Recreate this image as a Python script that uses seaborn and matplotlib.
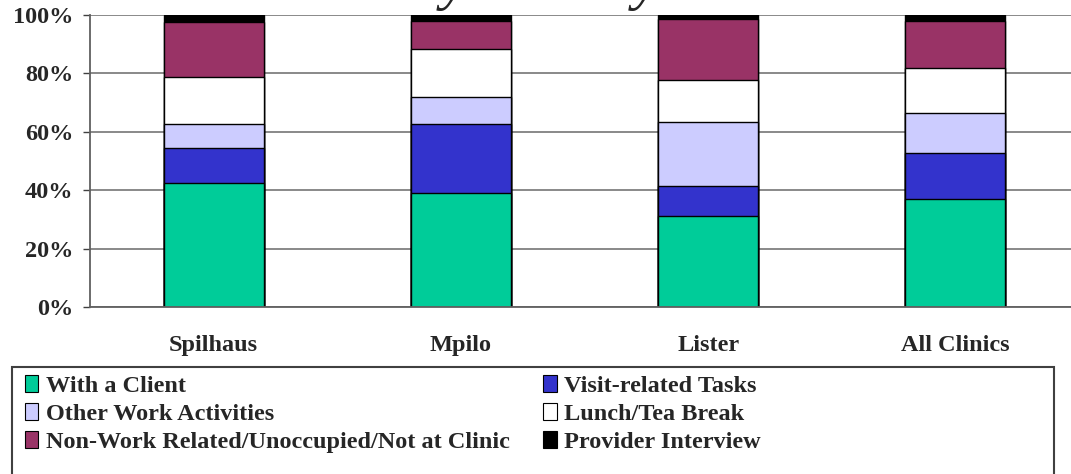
import matplotlib

matplotlib.use("Agg")
import matplotlib.pyplot as plt
import numpy as np
import pandas as pd
import seaborn as sns
from matplotlib.patches import Patch, Rectangle

clinics = ["Spilhaus", "Mpilo", "Lister", "All Clinics"]
activities = [
    "With a Client",
    "Visit-related Tasks",
    "Other Work Activities",
    "Lunch/Tea Break",
    "Non-Work Related/Unoccupied/Not at Clinic",
    "Provider Interview",
]
with_client = [42.4, 38.9, 31.3, 36.9]
visit_tasks = [12.0, 23.9, 10.2, 15.7]
other_work = [8.3, 9.2, 21.7, 13.7]
lunch_break = [16.1, 16.5, 14.6, 15.5]
non_work = [18.9, 9.6, 20.7, 16.2]
interview = [2.3, 1.9, 1.5, 2.0]
colors = ["#00CC99", "#3333CC", "#CCCCFF", "#FFFFFF", "#993366", "#000000"]

series = [with_client, visit_tasks, other_work, lunch_break, non_work, interview]
df = pd.DataFrame(dict(zip(activities, series)), index=clinics)
cum = df.cumsum(axis=1)

sns.set_style("white")
plt.rcParams["font.family"] = ["Liberation Serif", "DejaVu Serif"]
plt.rcParams["font.weight"] = "bold"

fig = plt.figure(figsize=(10.71, 4.74), dpi=100)
ax = fig.add_axes([90 / 1071, 1 - 307 / 474, 989 / 1071, 292 / 474])

# stacked bars: draw cumulative totals from the top segment down
for act, col in zip(reversed(activities), reversed(colors)):
    sns.barplot(x=clinics, y=cum[act].values, color=col, width=0.405,
                edgecolor="black", linewidth=1.0, ax=ax, saturation=1)

ax.set_xlim(-0.5, 3.5)
ax.set_ylim(0, 100)
ax.set_yticks(np.arange(0, 101, 20))
ax.set_yticklabels([f"{v}%" for v in range(0, 101, 20)], fontsize=17.5, fontweight="bold")
ax.set_xticks(range(4))
ax.set_xticklabels(clinics, fontsize=17.5, fontweight="bold")
ax.set_xticks([-0.5, 0.5, 1.5, 2.5], minor=True)
ax.tick_params(axis="x", which="major", length=0, pad=20)
ax.tick_params(axis="x", which="minor", length=5, width=1, color="#404040", direction="out")
ax.tick_params(axis="y", length=5, width=1, color="#404040", direction="out", pad=7, left=True)
ax.yaxis.grid(True, color="#808080", linewidth=1.3)
ax.set_axisbelow(True)
for s in ["top", "right"]:
    ax.spines[s].set_visible(False)
for s in ["left", "bottom"]:
    ax.spines[s].set_color("#606060")
    ax.spines[s].set_linewidth(1.3)

fig.text(412 / 1071, 1 + 1 / 474, "by Activity", fontsize=42, style="italic",
         fontweight="normal", ha="left", va="baseline")

# legend box
fig.patches.append(Rectangle((12 / 1071, -0.05), 1042 / 1071, (474 - 367) / 474 + 0.05,
                             transform=fig.transFigure, fill=False,
                             edgecolor="#404040", linewidth=1.5))
handles = [Patch(facecolor=c, edgecolor="black", linewidth=0.8, label=a)
           for a, c in zip(activities, colors)]
order = [0, 2, 4, 1, 3, 5]
fig.legend([handles[i] for i in order], [activities[i] for i in order], ncol=2,
           loc="upper left", bbox_to_anchor=(20 / 1071, 1 - 370 / 474), frameon=False,
           prop={"family": "Liberation Serif", "weight": "bold", "size": 17.5},
           handlelength=0.55, handleheight=0.7, handletextpad=0.3, columnspacing=1.4,
           labelspacing=0.25, borderpad=0.2, borderaxespad=0)

fig.savefig("out.png", dpi=100)
